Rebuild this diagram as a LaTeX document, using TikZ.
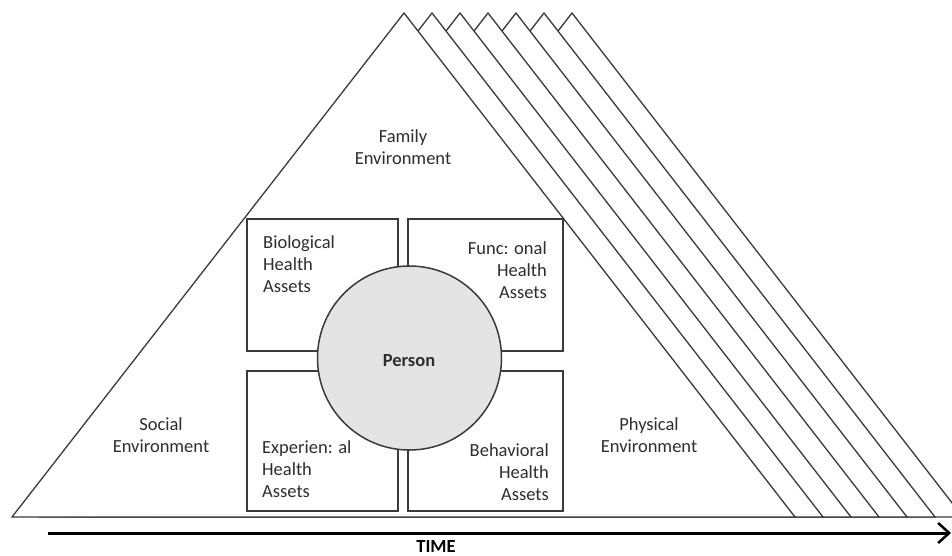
\documentclass[tikz,border=0pt]{standalone}
\usepackage{fontspec}
\setmainfont{Carlito}
\usetikzlibrary{arrows.meta}
\definecolor{lineg}{HTML}{3A3A3A}
\definecolor{txt}{HTML}{2E2E2E}
\definecolor{personfill}{HTML}{E4E4E4}
\tikzset{
  tri/.style={draw=lineg, line width=1.3pt, fill=white, line join=miter},
  assetbox/.style={draw=lineg, line width=1.5pt, fill=white},
  lbl/.style={inner sep=0pt, text=txt, font=\fontsize{18.5}{22}\selectfont},
  lblL/.style={lbl, align=left},
  lblR/.style={lbl, align=right},
  lblC/.style={lbl, align=center},
}
\begin{document}
\begin{tikzpicture}[x=1pt,y=-1pt]
\useasboundingbox (0,0) rectangle (952,555);
\begin{scope}
\clip (0,0) rectangle (952,555);
\foreach \k in {6,5,4,3,2,1,0}{
  \path[tri] ({404+28*\k},13) -- ({795+28*\k},517) -- ({12+28*\k},517) -- cycle;
}
\end{scope}
% boxes
\node[assetbox, minimum width=151pt, minimum height=132pt, inner sep=0pt, anchor=north west] (bio) at (246,218) {};
\node[assetbox, minimum width=155pt, minimum height=132pt, inner sep=0pt, anchor=north west] (fun) at (407,218) {};
\node[assetbox, minimum width=151pt, minimum height=140pt, inner sep=0pt, anchor=north west] (exp) at (246,370) {};
\node[assetbox, minimum width=155pt, minimum height=140pt, inner sep=0pt, anchor=north west] (beh) at (407,370) {};
\node[circle, draw=lineg, line width=1.5pt, fill=personfill, minimum size=184pt, inner sep=0pt] (person) at (409.5,358) {};
\node[lbl, font=\fontsize{18.5}{22}\selectfont\bfseries] (personlbl) at (409,361) {Person};
% labels
\node[lblC] (family) at (403,147) {Family\\Environment};
\node[lblL, anchor=west] (biolbl) at (263,264) {Biological\\Health\\Assets};
\node[lblR, anchor=east] (funlbl) at (547,270) {Func: onal\\Health\\Assets};
\node[lblL, anchor=west] (explbl) at (262,469) {Experien: al\\Health\\Assets};
\node[lblR, anchor=east] (behlbl) at (549,472) {Behavioral\\Health\\Assets};
\node[lblC] (social) at (161,435) {Social\\Environment};
\node[lblC] (physical) at (649,435) {Physical\\Environment};
% time arrow
\coordinate (tstart) at (48,533);
\coordinate (tend) at (951,533);
\draw[line width=3pt, black, -{Straight Barb[length=11pt,width=20pt,line width=2.5pt]}] (tstart) -- (tend);
\node[lbl, text=black, font=\fontsize{18.5}{22}\selectfont\bfseries] (time) at (436,546) {TIME};
\end{tikzpicture}
\end{document}
